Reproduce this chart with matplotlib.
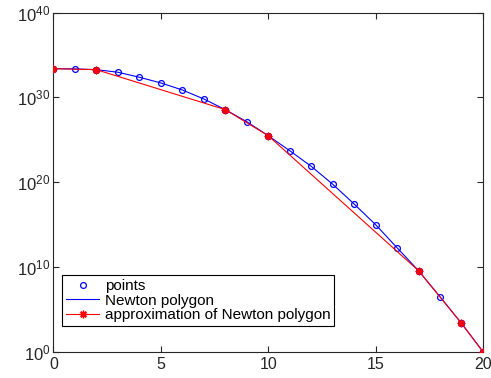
import numpy as np
import matplotlib
matplotlib.use('Agg')
import matplotlib.pyplot as plt

plt.rcParams['font.family'] = ['Liberation Sans', 'DejaVu Sans']
plt.rcParams['mathtext.default'] = 'regular'

# data (log10 of the values)
k = np.arange(0, 21)
log_points = [33.39, 33.36, 33.27, 32.97, 32.38, 31.71, 30.88, 29.82, 28.56, 27.14,
              25.49, 23.72, 21.88, 19.77, 17.43, 14.99, 12.27, 9.56, 6.49, 3.35, 0.0]
hull_idx = [0, 2, 8, 10, 17, 19, 20]

points = 10.0 ** np.array(log_points)
approx_x = k[hull_idx]
approx_y = points[hull_idx]

fig = plt.figure(figsize=(4.91, 3.78), dpi=100)
ax = fig.add_axes([0.1086, 0.0696, 0.875, 0.897])

ax.semilogy(k, points, 'o', color='blue', mfc='none', ms=4.2, mew=0.9, label='points', zorder=3)
ax.semilogy(k, points, '-', color='blue', lw=0.8, label='Newton polygon', zorder=2)
ax.semilogy(approx_x, approx_y, '-', color='red', lw=0.8, marker=(8, 2, 0), ms=5.5, mew=1.0,
            label='approximation of Newton polygon', zorder=4)

ax.set_xlim(0, 20)
ax.set_ylim(1, 1e40)
ax.set_xticks([0, 5, 10, 15, 20])
ax.set_yticks([10.0 ** e for e in range(0, 41, 10)])
ax.set_yticklabels(['$10^{%d}$' % e for e in range(0, 41, 10)])
ax.yaxis.set_minor_locator(matplotlib.ticker.NullLocator())
ax.tick_params(direction='in', top=True, right=True, length=4, width=0.8,
               colors='#262626', labelsize=11.5)
ax.tick_params(axis='x', pad=4)
ax.tick_params(axis='y', labelsize=12, pad=2)
for lab in ax.get_yticklabels():
    lab.set_verticalalignment('center_baseline')
for s in ax.spines.values():
    s.set_color('#262626')
    s.set_linewidth(0.8)

leg = ax.legend(loc='lower left', bbox_to_anchor=(0.02, 0.075), fontsize=11,
                fancybox=False, edgecolor='black', framealpha=1, borderpad=0.25,
                labelspacing=0.05, handlelength=2.2, handletextpad=0.35, borderaxespad=0)
leg.get_frame().set_linewidth(0.8)

fig.savefig('out.png', dpi=100)
